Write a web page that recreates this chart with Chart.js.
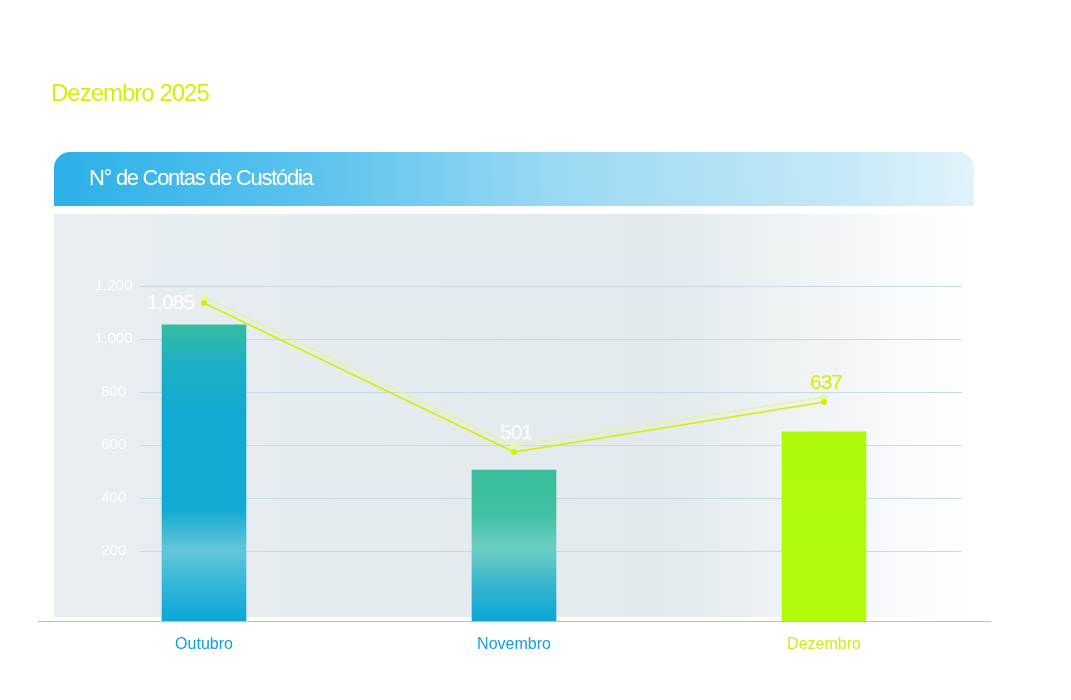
<!DOCTYPE html>
<html>
<head>
<meta charset="utf-8">
<script src="https://cdn.jsdelivr.net/npm/chart.js@4"></script>
<style>
  body { margin: 0; background: #fff; }
  #wrap { width: 1071px; height: 700px; }
</style>
</head>
<body>
<div id="wrap"><canvas id="contasChart"></canvas></div>
<script>
const ctx = document.getElementById("contasChart");

// data
const months = ["Outubro", "Novembro", "Dezembro"];
const barValues = [1054, 506, 650];
const lineValues = [1137, 574, 763];
const ghostValues = [1160, 597, 782];
const labelValues = [1085, 501, 637];
const yTicks = [200, 400, 600, 800, 1000, 1200];

const LIME = "#d4f000";
const BLUE = "#12a0dc";
const FONT = "'Liberation Sans', Arial, sans-serif";

const barGradients = [
  [[0, "#35bda0"], [0.12, "#1fb0c4"], [0.3, "#12a9d2"], [0.62, "#12a9d3"], [0.76, "#63c7d9"], [0.9, "#2cb3d8"], [1, "#0ea6d6"]],
  [[0, "#37bd9d"], [0.3, "#43c0a4"], [0.52, "#6fcec3"], [0.72, "#3fb8cb"], [1, "#0ba5d7"]],
  [[0, "#adfa08"], [1, "#b0fc0a"]]
];

const barColor = (c) => {
  const chart = c.chart;
  const y = chart.scales.y;
  if (!chart.chartArea || !y) return "#12a9d3";
  const top = y.getPixelForValue(barValues[c.dataIndex]);
  const bottom = chart.chartArea.bottom;
  const g = chart.ctx.createLinearGradient(0, top, 0, bottom);
  barGradients[c.dataIndex].forEach(([s, col]) => g.addColorStop(s, col));
  return g;
};

const text = (c, str, x, y, font, color, align, spacing) => {
  c.save();
  c.font = font;
  c.fillStyle = color;
  c.textAlign = align || "left";
  c.textBaseline = "middle";
  c.letterSpacing = spacing || "0px";
  c.fillText(str, x, y);
  c.restore();
};

const decor = {
  id: "decor",
  beforeDraw(chart) {
    const c = chart.ctx;
    c.save();
    c.fillStyle = "#ffffff";
    c.fillRect(0, 0, chart.width, chart.height);

    // plot background
    const bg = c.createLinearGradient(54, 0, 975, 0);
    bg.addColorStop(0, "#e8eef1");
    bg.addColorStop(0.66, "#e2eaed");
    bg.addColorStop(0.86, "#f3f6f8");
    bg.addColorStop(1, "#ffffff");
    c.fillStyle = bg;
    c.fillRect(54, 214, 921, 403);

    // header bar
    const hg = c.createLinearGradient(54, 206, 974, 152);
    hg.addColorStop(0, "#2bb0e8");
    hg.addColorStop(0.3, "#5fc4ee");
    hg.addColorStop(0.55, "#9bd9f3");
    hg.addColorStop(0.85, "#c3e8f7");
    hg.addColorStop(1, "#e2f3fa");
    c.fillStyle = hg;
    c.beginPath();
    c.roundRect(54, 152, 920, 54, [16, 16, 0, 0]);
    c.fill();
    c.restore();

    text(c, "Dezembro 2025", 51, 94, "24px " + FONT, LIME, "left", "-1px");
    text(c, "N° de Contas de Custódia", 89, 179, "22px " + FONT, "#ffffff", "left", "-1.3px");
  },
  beforeDatasetsDraw(chart) {
    const c = chart.ctx;
    const y = chart.scales.y;
    const a = chart.chartArea;
    c.save();
    c.strokeStyle = "#c4dcea";
    c.lineWidth = 1;
    yTicks.forEach((v) => {
      const py = Math.round(y.getPixelForValue(v)) + 0.5;
      c.beginPath();
      c.moveTo(a.left + 91, py);
      c.lineTo(a.right - 17, py);
      c.stroke();
    });
    c.restore();
  },
  afterDatasetsDraw(chart) {
    const c = chart.ctx;
    const a = chart.chartArea;
    c.save();
    c.strokeStyle = "#98c9e6";
    c.lineWidth = 1.2;
    c.beginPath();
    c.moveTo(38, a.bottom + 0.5);
    c.lineTo(991, a.bottom + 0.5);
    c.stroke();
    c.restore();

    const pts = chart.getDatasetMeta(1).data;
    pts.forEach((p, i) => {
      const str = labelValues[i].toLocaleString("en-US");
      const color = i === 2 ? LIME : "#ffffff";
      if (i === 0) {
        text(c, str, p.x - 10, p.y, "21px " + FONT, color, "right", "-1px");
      } else {
        text(c, str, p.x + 2, p.y - 19, "21px " + FONT, color, "center", "-1px");
      }
    });
  }
};

new Chart(ctx, {
  type: "bar",
  data: {
    labels: months,
    datasets: [
      {
        label: "Contas",
        data: barValues,
        backgroundColor: barColor,
        borderWidth: 0,
        barThickness: 84,
        base: -64,
        order: 2
      },
      {
        label: "Linha",
        type: "line",
        data: lineValues,
        borderColor: LIME,
        backgroundColor: LIME,
        borderWidth: 1.6,
        pointRadius: 3,
        pointBorderWidth: 0,
        order: 0
      },
      {
        label: "Sombra",
        type: "line",
        data: ghostValues,
        borderColor: "rgba(226, 245, 150, 0.7)",
        backgroundColor: "rgba(230, 247, 170, 0.9)",
        borderWidth: 2,
        pointRadius: 3.5,
        pointBorderWidth: 0,
        order: 1
      }
    ]
  },
  options: {
    responsive: true,
    maintainAspectRatio: false,
    animation: false,
    layout: { padding: { left: 49, right: 92, top: 214, bottom: 0 } },
    plugins: {
      legend: { display: false },
      tooltip: { enabled: false }
    },
    scales: {
      x: {
        offset: true,
        grid: { display: false, drawTicks: false },
        border: { display: false },
        afterFit: (s) => { s.height = 79; },
        ticks: {
          padding: 14,
          font: { family: FONT, size: 16 },
          color: (c) => (c.index === 2 ? "#c9ee1a" : BLUE)
        }
      },
      y: {
        min: -64,
        max: 1473,
        grid: { display: false, drawTicks: false },
        border: { display: false },
        afterFit: (s) => { s.width = 0; },
        afterBuildTicks: (s) => { s.ticks = yTicks.map((v) => ({ value: v })); },
        ticks: {
          mirror: true,
          crossAlign: "center",
          padding: 46,
          color: "#ffffff",
          font: { family: FONT, size: 15 },
          callback: (v) => v.toLocaleString("en-US")
        }
      }
    }
  },
  plugins: [decor]
});
</script>
</body>
</html>
